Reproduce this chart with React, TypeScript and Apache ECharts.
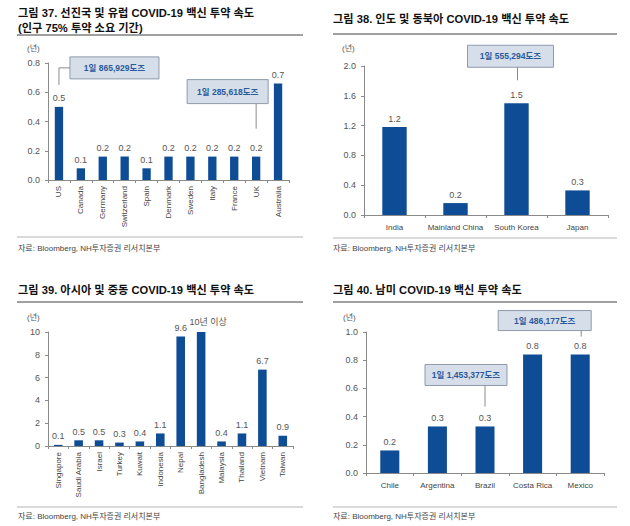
import React, { useEffect, useRef } from "react";
import * as echarts from "echarts";

const catsA = ["US", "Canada", "Germany", "Switzerland", "Spain", "Denmark", "Sweden", "Italy", "France", "UK", "Australia"];
const valsA = [0.5, 0.08, 0.16, 0.16, 0.08, 0.16, 0.16, 0.16, 0.16, 0.16, 0.66];
const catsB = ["India", "Mainland China", "South Korea", "Japan"];
const valsB = [1.18, 0.16, 1.5, 0.33];
const catsC = ["Singapore", "Saudi Arabia", "Israel", "Turkey", "Kuwait", "Indonesia", "Nepal", "Bangladesh", "Malaysia", "Thailand", "Vietnam", "Taiwan"];
const valsC = [0.1, 0.5, 0.5, 0.3, 0.4, 1.1, 9.6, 10, 0.4, 1.1, 6.7, 0.9];
const catsD = ["Chile", "Argentina", "Brazil", "Costa Rica", "Mexico"];
const valsD = [0.16, 0.33, 0.33, 0.84, 0.84];

const titles = [
  "그림 37. 선진국 및 유럽 COVID-19 백신 투약 속도",
  "그림 38. 인도 및 동북아 COVID-19 백신 투약 속도",
  "그림 39. 아시아 및 중동 COVID-19 백신 투약 속도",
  "그림 40. 남미 COVID-19 백신 투약 속도",
];
const subtitleA = "(인구 75% 투약 소요 기간)";
const unitLabel = "(년)";
const sourceText = "자료: Bloomberg, NH투자증권 리서치본부";
const bangladeshLabel = "10년 이상";
const notes = ["1일 865,929도즈", "1일 285,618도즈", "1일 555,294도즈", "1일 486,177도즈", "1일 1,453,377도즈"];

const BLUE = "#0f4c96";
const FONT = "'Liberation Sans', 'Noto Sans CJK KR', sans-serif";
const AXIS = "#8a8a8a";
const TXT = "#555";

function xAxis(gi: number, cats: string[], rotate: number) {
  return {
    type: "category",
    gridIndex: gi,
    data: cats,
    axisLine: { lineStyle: { color: AXIS, width: 1 } },
    axisTick: { show: true, length: 3, lineStyle: { color: AXIS } },
    axisLabel: { interval: 0, rotate, fontSize: 8, color: "#444", fontFamily: FONT, margin: rotate ? 6 : 8 },
  };
}
function yAxis(gi: number, max: number, interval: number, dec: number) {
  return {
    type: "value",
    gridIndex: gi,
    min: 0,
    max,
    interval,
    axisLine: { show: true, lineStyle: { color: AXIS, width: 1 } },
    axisTick: { show: true, length: 3, lineStyle: { color: AXIS } },
    splitLine: { show: false },
    axisLabel: { fontSize: 9, color: TXT, fontFamily: FONT, margin: 8, formatter: (v: number) => v.toFixed(dec) },
  };
}
function series(i: number, vals: number[], bw: string, special?: number) {
  return {
    type: "bar",
    xAxisIndex: i,
    yAxisIndex: i,
    barWidth: bw,
    itemStyle: { color: BLUE },
    label: {
      show: true,
      position: "top",
      distance: 4,
      fontSize: 9,
      color: TXT,
      fontFamily: FONT,
      formatter: (p: any) => (p.dataIndex === special ? bangladeshLabel : Number(p.value).toFixed(1)),
    },
    data: vals.map((v, idx) =>
      idx === special ? { value: v, label: { offset: [7, -2] } } : v
    ),
  };
}

export default function App() {
  const ref = useRef<HTMLDivElement>(null);
  useEffect(() => {
    const chart = echarts.init(ref.current!, null, { renderer: "svg" });
    chart.setOption({
      animation: false,
      backgroundColor: "#fff",
      grid: [
        { left: 48, top: 63, width: 241, height: 117 },
        { left: 364, top: 66, width: 244, height: 149 },
        { left: 48, top: 332, width: 245, height: 114 },
        { left: 366, top: 332, width: 238, height: 141 },
      ],
      xAxis: [xAxis(0, catsA, 90), xAxis(1, catsB, 0), xAxis(2, catsC, 90), xAxis(3, catsD, 0)],
      yAxis: [yAxis(0, 0.8, 0.2, 1), yAxis(1, 2.0, 0.4, 1), yAxis(2, 10, 2, 0), yAxis(3, 1.0, 0.2, 1)],
      series: [
        series(0, valsA, "38%"),
        series(1, valsB, "40%"),
        series(2, valsC, "42%", 7),
        series(3, valsD, "40%"),
      ],
    });

    const px = (si: number, idx: number, v: number) => chart.convertToPixel({ seriesIndex: si }, [idx, v]) as number[];
    const g: any[] = [];
    const title = (x: number, y: number, t: string) =>
      g.push({ type: "text", x, y, style: { text: t, font: `bold 11.2px ${FONT}`, fill: "#111", textVerticalAlign: "middle" } });
    const hline = (x1: number, x2: number, y: number, w: number, c: string) =>
      g.push({ type: "line", shape: { x1, y1: y, x2, y2: y }, style: { stroke: c, lineWidth: w } });
    const small = (x: number, y: number, t: string, size = 8, color = "#444") =>
      g.push({ type: "text", x, y, style: { text: t, font: `${size}px ${FONT}`, fill: color, textVerticalAlign: "middle" } });
    const box = (x: number, y: number, w: number, h: number, t: string) => {
      g.push({ type: "rect", shape: { x, y, width: w, height: h }, style: { fill: "#d6dee9", stroke: "#8e9bab", lineWidth: 1 } });
      g.push({
        type: "text",
        x: x + w / 2,
        y: y + h / 2,
        style: { text: t, font: `bold 8.5px ${FONT}`, fill: "#2a5a9c", textAlign: "center", textVerticalAlign: "middle" },
      });
    };
    const conn = (pts: number[][]) =>
      g.push({ type: "polyline", shape: { points: pts }, style: { stroke: "#8a8a8a", lineWidth: 1, fill: null } });

    // panel titles and rules
    title(18, 13, titles[0]);
    title(18, 28, subtitleA);
    hline(17, 303, 35, 2, "#a0a0a0");
    title(333, 19, titles[1]);
    hline(333, 617, 34, 2, "#a0a0a0");
    title(18, 290, titles[2]);
    hline(17, 303, 302, 2, "#a0a0a0");
    title(333, 290, titles[3]);
    hline(333, 617, 302, 2, "#a0a0a0");

    small(27, 48, unitLabel, 8, "#555");
    small(342, 48, unitLabel, 8, "#555");
    small(27, 317, unitLabel, 8, "#555");
    small(343, 317, unitLabel, 8, "#555");

    hline(17, 303, 237, 1, "#b5b5b5");
    small(18, 248, sourceText);
    hline(333, 617, 238, 1, "#b5b5b5");
    small(333, 248, sourceText);
    hline(17, 303, 507, 1, "#b5b5b5");
    small(18, 516, sourceText);
    hline(333, 617, 507, 1, "#b5b5b5");
    small(333, 516, sourceText);

    // annotations
    const us = px(0, 0, valsA[0]);
    box(us[0] + 11, us[1] - 50, 89, 22, notes[0]);
    conn([[us[0] + 11, us[1] - 39], [us[0], us[1] - 39], [us[0], us[1] - 22]]);
    const uk = px(0, 9, valsA[9]);
    box(uk[0] - 69, uk[1] - 77, 81, 24, notes[1]);
    conn([[uk[0], uk[1] - 53], [uk[0], uk[1] - 28]]);
    const kr = px(1, 2, valsB[2]);
    box(kr[0] - 49, kr[1] - 58, 86, 22, notes[2]);
    conn([[kr[0] + 1, kr[1] - 36], [kr[0] + 1, kr[1] - 23]]);
    const mx = px(3, 4, valsD[4]);
    box(mx[0] - 82, mx[1] - 44, 93, 20, notes[3]);
    conn([[mx[0] + 1, mx[1] - 24], [mx[0] + 1, mx[1] - 18]]);
    const br = px(3, 2, valsD[2]);
    box(br[0] - 60, br[1] - 62, 82, 21, notes[4]);
    conn([[br[0], br[1] - 41], [br[0], br[1] - 20]]);

    chart.setOption({ graphic: g });
    return () => chart.dispose();
  }, []);
  return <div ref={ref} style={{ position: "fixed", left: 0, top: 0, width: 630, height: 526 }} />;
}
